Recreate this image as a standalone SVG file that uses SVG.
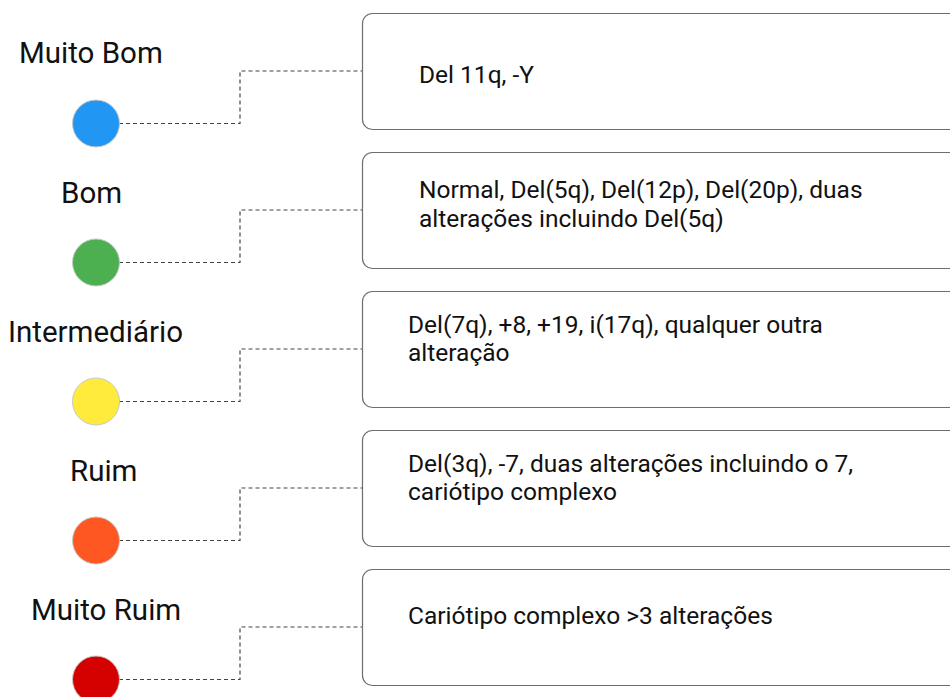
<svg xmlns="http://www.w3.org/2000/svg" width="950" height="697" viewBox="0 0 950 697">
<style>
.lbl{font-family:Roboto,"Liberation Sans",sans-serif;font-size:29.5px;fill:#111}
.txt{font-family:Roboto,"Liberation Sans",sans-serif;font-size:24.5px;fill:#111}
.box{fill:#fff;stroke:#6e6e6e;stroke-width:1.2}
.dot{stroke:#c8c8c8;stroke-width:1}
.con{fill:none;stroke:#444;stroke-width:1.2;stroke-dasharray:4 3}
</style>
<rect width="950" height="697" fill="#fff"/>
<g id="connectors">
<path class="con" d="M119 123.5H240V71H362"/>
<path class="con" d="M119 262.5H240V210H362"/>
<path class="con" d="M119 401.5H240V349H362"/>
<path class="con" d="M119 540.5H240V488H362"/>
<path class="con" d="M119 679.5H240V627H362"/>
</g>
<g id="muito-bom">
<text class="lbl" x="19" y="63">Muito Bom</text>
<circle class="dot" cx="96" cy="123.5" r="23.5" fill="#2196F3"/>
<rect class="box" x="362.5" y="13.5" width="620" height="116" rx="10"/>
<text class="txt" x="419" y="83">Del 11q, -Y</text>
</g>
<g id="bom">
<text class="lbl" x="61" y="203">Bom</text>
<circle class="dot" cx="96" cy="262.5" r="23.5" fill="#4CAF50"/>
<rect class="box" x="362.5" y="152.5" width="620" height="116" rx="10"/>
<text class="txt" x="419" y="198">Normal, Del(5q), Del(12p), Del(20p), duas</text>
<text class="txt" x="419" y="227">alterações incluindo Del(5q)</text>
</g>
<g id="intermediario">
<text class="lbl" x="8" y="342">Intermediário</text>
<circle class="dot" cx="96" cy="401.5" r="23.5" fill="#FFEB3B"/>
<rect class="box" x="362.5" y="291.5" width="620" height="116" rx="10"/>
<text class="txt" x="408" y="333">Del(7q), +8, +19, i(17q), qualquer outra</text>
<text class="txt" x="408" y="361">alteração</text>
</g>
<g id="ruim">
<text class="lbl" x="70" y="481">Ruim</text>
<circle class="dot" cx="96" cy="540.5" r="23.5" fill="#FF5722"/>
<rect class="box" x="362.5" y="430.5" width="620" height="116" rx="10"/>
<text class="txt" x="408" y="472">Del(3q), -7, duas alterações incluindo o 7,</text>
<text class="txt" x="408" y="500">cariótipo complexo</text>
</g>
<g id="muito-ruim">
<text class="lbl" x="31" y="620">Muito Ruim</text>
<circle class="dot" cx="96" cy="679.5" r="23.5" fill="#D50000"/>
<rect class="box" x="362.5" y="569.5" width="620" height="116" rx="10"/>
<text class="txt" x="408" y="624">Cariótipo complexo &gt;3 alterações</text>
</g>
</svg>
